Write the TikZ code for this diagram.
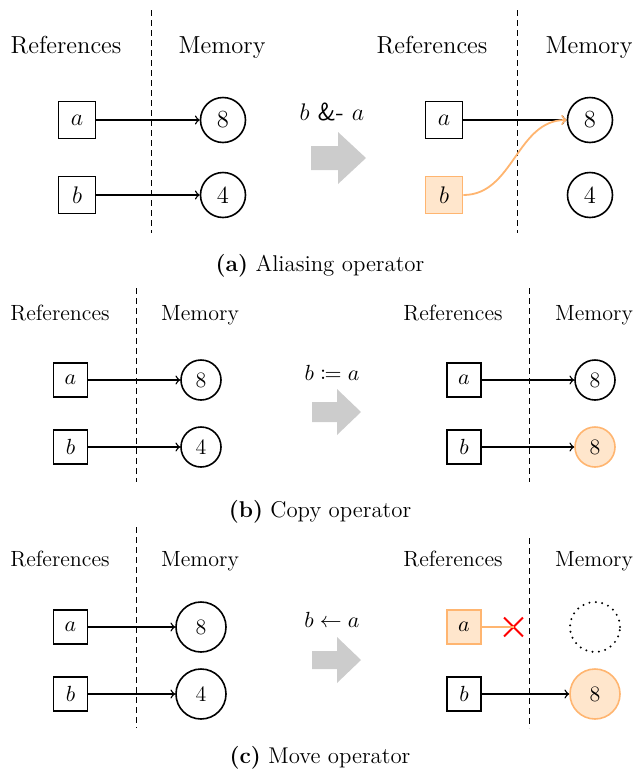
\documentclass[tikz,border=0pt]{standalone}
\usepackage{mathtools}
\usetikzlibrary{shapes.misc}
\definecolor{hlfill}{RGB}{255,230,204}
\definecolor{hldraw}{RGB}{255,181,112}
\tikzset{
  refbox/.style={draw, line width=.9pt, minimum size=#1, inner sep=0},
  memcell/.style={draw, circle, line width=.8pt, minimum size=#1, inner sep=0},
  hl/.style={draw=hldraw, fill=hlfill},
  gone/.style={draw, circle, dash pattern=on 0pt off 3.2pt, line cap=round, line width=1.1pt, minimum size=#1, inner sep=0},
  sep/.style={dash pattern=on 3pt off 2pt, line width=.5pt},
  ptr/.style={->, line width=.7pt},
  bigarrow/.style={fill=black!20},
  hdr/.style={anchor=base},
  cut/.style={cross out, draw=red, line width=.9pt, minimum size=8.5pt, inner sep=0},
}
\begin{document}
\begin{tikzpicture}[x=.5pt,y=-.5pt]
  \useasboundingbox (0,0) rectangle (636,772);
  % (a) aliasing
  \begin{scope}[font=\fontsize{12.3}{14}\selectfont]
    \node[hdr] (hA1) at (66,53) {References};
    \node[hdr] (hA2) at (222,53) {Memory};
    \node[hdr] (hA3) at (432,53) {References};
    \node[hdr] (hA4) at (589,53) {Memory};
    \draw[sep] (151,10) -- (151,233);
    \draw[sep] (517,10) -- (517,233);
    \node[refbox=18.5pt] (rA1) at (77,120) {$a$};
    \node[refbox=18.5pt] (rA2) at (77,195) {$b$};
    \node[memcell=22.5pt] (mA1) at (223,120) {8};
    \node[memcell=22.5pt] (mA2) at (223,195) {4};
    \draw[ptr] (rA1) -- (mA1);
    \draw[ptr] (rA2) -- (mA2);
    \node[hdr] (opA) at (332,120) {$b$ \textsf{\&-}\ $a$};
    \fill[bigarrow] (311,146) -- (338,146) -- (338,132) -- (366,158) -- (338,184) -- (338,170) -- (311,170) -- cycle;
    \node[refbox=18.5pt] (rA3) at (444,120) {$a$};
    \node[refbox=18.5pt, hl] (rA4) at (444,195) {$b$};
    \node[memcell=22.5pt] (mA3) at (590,120) {8};
    \node[memcell=22.5pt] (mA4) at (590,195) {4};
    \draw[ptr] (rA3) -- (mA3);
    \draw[ptr, hldraw, line width=.9pt] (rA4.east) to[out=0, in=180] (mA3.west);
  \end{scope}
  \node[hdr, font=\fontsize{11.4}{13}\selectfont] (capA) at (320,271) {\textbf{(a)} Aliasing operator};
  % (b) copy
  \begin{scope}[font=\fontsize{11}{13}\selectfont]
    \node[hdr] (hB1) at (60,320) {References};
    \node[hdr] (hB2) at (200,320) {Memory};
    \node[hdr] (hB3) at (453,320) {References};
    \node[hdr] (hB4) at (594,320) {Memory};
    \draw[sep] (136,288) -- (136,482);
    \draw[sep] (529,288) -- (529,482);
    \node[refbox=17pt] (rB1) at (70.5,380) {$a$};
    \node[refbox=17pt] (rB2) at (70.5,447) {$b$};
    \node[memcell=20pt] (mB1) at (201,380) {8};
    \node[memcell=20pt] (mB2) at (201,447) {4};
    \draw[ptr] (rB1) -- (mB1);
    \draw[ptr] (rB2) -- (mB2);
    \node[hdr] (opB) at (332,380) {$b \coloneqq a$};
    \fill[bigarrow] (312,402) -- (337,402) -- (337,389) -- (361,412) -- (337,435) -- (337,422) -- (312,422) -- cycle;
    \node[refbox=17pt] (rB3) at (464,380) {$a$};
    \node[refbox=17pt] (rB4) at (464,447) {$b$};
    \node[memcell=20pt] (mB3) at (595,380) {8};
    \node[memcell=20pt, hl] (mB4) at (595,447) {8};
    \draw[ptr] (rB3) -- (mB3);
    \draw[ptr] (rB4) -- (mB4);
  \end{scope}
  \node[hdr, font=\fontsize{11.4}{13}\selectfont] (capB) at (320,517) {\textbf{(b)} Copy operator};
  % (c) move
  \begin{scope}[font=\fontsize{11}{13}\selectfont]
    \node[hdr] (hC1) at (60,566) {References};
    \node[hdr] (hC2) at (200,566) {Memory};
    \node[hdr] (hC3) at (453,566) {References};
    \node[hdr] (hC4) at (594,566) {Memory};
    \draw[sep] (136,527) -- (136,728);
    \draw[sep] (529,538) -- (529,728);
    \node[refbox=17pt] (rC1) at (70.5,627) {$a$};
    \node[refbox=17pt] (rC2) at (70.5,694) {$b$};
    \node[memcell=25pt] (mC1) at (201,627) {8};
    \node[memcell=25pt] (mC2) at (201,694) {4};
    \draw[ptr] (rC1) -- (mC1);
    \draw[ptr] (rC2) -- (mC2);
    \node[hdr] (opC) at (332,627) {$b \leftarrow a$};
    \fill[bigarrow] (312,651) -- (337,651) -- (337,637) -- (361,660) -- (337,683) -- (337,669) -- (312,669) -- cycle;
    \node[refbox=17pt, hl] (rC3) at (464,627) {$a$};
    \node[refbox=17pt] (rC4) at (464,694) {$b$};
    \node[gone=25pt] (mC3) at (595,627) {};
    \node[memcell=25pt, hl] (mC4) at (595,694) {8};
    \node[cut] (xC) at (513.5,627) {};
    \draw[hldraw, line width=.9pt] (rC3.east) -- (xC.center);
    \draw[ptr] (rC4) -- (mC4);
  \end{scope}
  \node[hdr, font=\fontsize{11.4}{13}\selectfont] (capC) at (320,763) {\textbf{(c)} Move operator};
\end{tikzpicture}
\end{document}
